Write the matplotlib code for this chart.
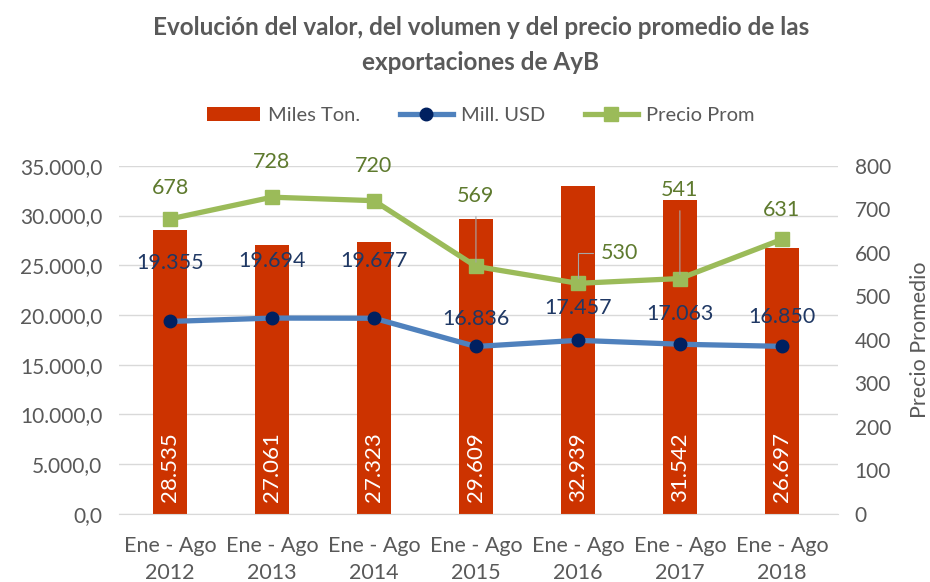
import matplotlib.pyplot as plt
import numpy as np
from matplotlib.ticker import FuncFormatter

# datos
periodos = ["Ene - Ago\n2012", "Ene - Ago\n2013", "Ene - Ago\n2014", "Ene - Ago\n2015",
            "Ene - Ago\n2016", "Ene - Ago\n2017", "Ene - Ago\n2018"]
miles_ton = [28535, 27061, 27323, 29609, 32939, 31542, 26697]
mill_usd = [19355, 19694, 19677, 16836, 17457, 17063, 16850]
precio_prom = [678, 728, 720, 569, 530, 541, 631]

plt.rcParams['font.family'] = ['Lato', 'DejaVu Sans']
gris = "#595959"

fig = plt.figure(figsize=(9.3, 5.82), dpi=100)
ax = fig.add_axes([0.128, 0.117, 0.773, 0.598])
ax2 = ax.twinx()

x = np.arange(len(periodos))

bars = ax.bar(x, miles_ton, width=0.33, color="#CC3300", zorder=2, label="Miles Ton.")
l1, = ax.plot(x, mill_usd, color="#4F81BD", lw=3.8, marker="o", ms=9,
              mfc="#002060", mec="#002060", zorder=3, label="Mill. USD")
l2, = ax2.plot(x, precio_prom, color="#9BBB59", lw=3.8, marker="s", ms=10,
               mfc="#9BBB59", mec="#9BBB59", zorder=3, label="Precio Prom")

ax.set_ylim(0, 35000)
ax2.set_ylim(0, 800)
ax.set_xlim(-0.5, 6.55)
ax.set_yticks(np.arange(0, 35001, 5000))
ax2.set_yticks(np.arange(0, 801, 100))

def fmt_es(v, pos):
    return f"{v:,.1f}".replace(",", "X").replace(".", ",").replace("X", ".")

ax.yaxis.set_major_formatter(FuncFormatter(fmt_es))
ax.grid(axis="y", color="#D9D9D9", lw=1, zorder=0)
ax.set_axisbelow(True)

for a in (ax, ax2):
    for s in a.spines.values():
        s.set_visible(False)
    a.tick_params(length=0, labelsize=15, colors=gris, pad=12)
ax.spines["bottom"].set_visible(True)
ax.spines["bottom"].set_color("#D9D9D9")
ax.set_xticks(x)
ax.set_xticklabels(periodos, fontsize=15.5, color=gris, linespacing=1.45)
ax.tick_params(axis="x", pad=16)

ax2.set_ylabel("Precio Promedio", fontsize=15.5, color=gris, labelpad=14)

# etiquetas barras
for xi, v in zip(x, miles_ton):
    ax.text(xi, 1200, f"{v:,}".replace(",", "."), rotation=90, color="white",
            fontsize=16, ha="center", va="bottom", zorder=4)

# etiquetas Mill. USD
off_usd = [42, 41, 41, 20, 23, 22, 21]
for xi, v, o in zip(x, mill_usd, off_usd):
    ax.annotate(f"{v:,}".replace(",", "."), (xi, v), xytext=(0, o), textcoords="offset points",
                ha="center", va="center", fontsize=15.5, color="#1F3864", zorder=5)

# etiquetas precio
off_pre = [(0, 22), (0, 25), (0, 25), (0, 51), (30, 22), (0, 64), (0, 21)]
for i, (xi, v, o) in enumerate(zip(x, precio_prom, off_pre)):
    arrow = None
    if i in (3, 5):
        arrow = dict(arrowstyle="-", color="#A6A6A6", lw=0.8, shrinkA=6, shrinkB=3)
    if i == 4:
        arrow = dict(arrowstyle="-", color="#A6A6A6", lw=0.8, shrinkA=4, shrinkB=4,
                     relpos=(0, 0.5), connectionstyle="angle,angleA=0,angleB=90,rad=0")
    ax2.annotate(f"{v}", (xi, v), xytext=o, textcoords="offset points",
                 ha="center", va="center", fontsize=15.5, color="#5E7A2E",
                 arrowprops=arrow, zorder=5)

fig.text(0.517, 0.952, "Evolución del valor, del volumen y del precio promedio de las",
         ha="center", va="center", fontsize=17.5, fontweight="bold", color=gris)
fig.text(0.517, 0.893, "exportaciones de AyB",
         ha="center", va="center", fontsize=17.5, fontweight="bold", color=gris)

fig.legend(handles=[bars, l1, l2], loc="center", bbox_to_anchor=(0.517, 0.802),
           ncol=3, frameon=False, fontsize=14.5, labelcolor=gris,
           handlelength=2.6, columnspacing=2.0, handletextpad=0.4)

fig.savefig("out.png", dpi=100)
